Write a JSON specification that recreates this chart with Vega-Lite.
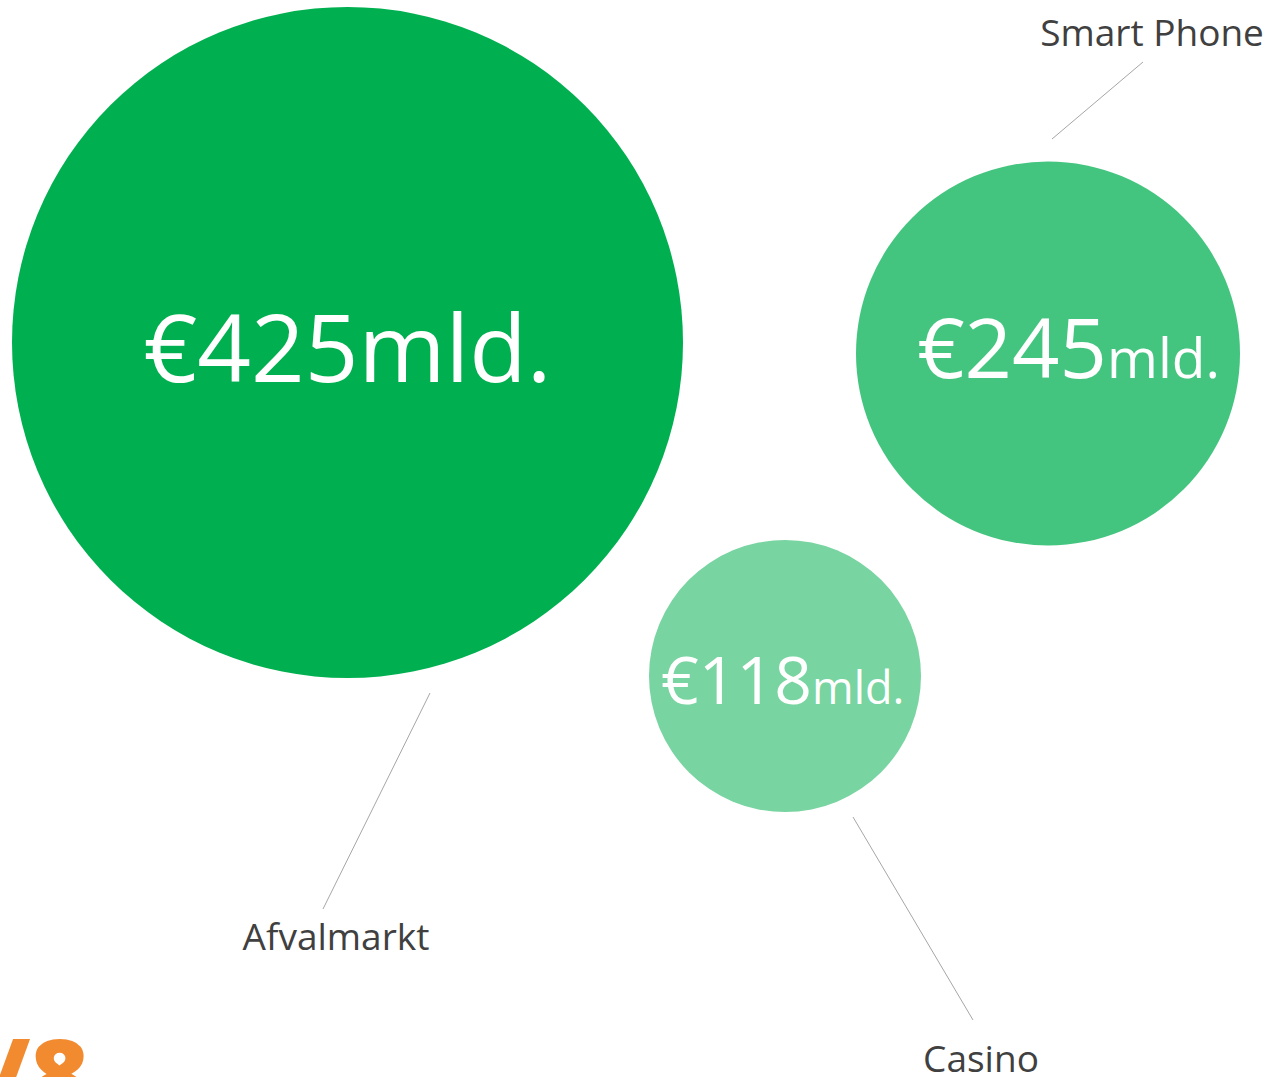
{
  "$schema": "https://vega.github.io/schema/vega-lite/v6.json",
  "width": 1268,
  "height": 1077,
  "padding": 0,
  "autosize": "none",
  "background": "white",
  "config": {"view": {"stroke": null}, "axis": {"disable": true}, "legend": {"disable": true}},
  "datasets": {
    "markets": [
      {"name": "Afvalmarkt", "value": 425, "cx": 347.5, "cy": 342.5, "amount": "€425", "unit": "mld.", "splitX": 358.5, "baseY": 382, "labelX": 336, "labelY": 950, "lx1": 430, "ly1": 693, "lx2": 323, "ly2": 909},
      {"name": "Smart Phone", "value": 245, "cx": 1048, "cy": 353.5, "amount": "€245", "unit": "mld.", "splitX": 1107, "baseY": 378, "labelX": 1152, "labelY": 46, "lx1": 1143, "ly1": 62, "lx2": 1052, "ly2": 139},
      {"name": "Casino", "value": 118, "cx": 785, "cy": 676, "amount": "€118", "unit": "mld.", "splitX": 812, "baseY": 704, "labelX": 981, "labelY": 1072, "lx1": 853, "ly1": 817, "lx2": 973, "ly2": 1020}
    ],
    "logo": [{"text": "/8", "x": -14, "y": 1111}]
  },
  "data": {"name": "markets"},
  "resolve": {"scale": {"size": "independent"}},
  "layer": [
    {
      "mark": {"type": "point", "shape": "circle", "filled": true, "opacity": 1, "strokeWidth": 0},
      "encoding": {
        "x": {"field": "cx", "type": "quantitative", "scale": {"domain": [0, 1268], "nice": false, "zero": false}},
        "y": {"field": "cy", "type": "quantitative", "scale": {"domain": [0, 1077], "nice": false, "zero": false, "reverse": true}},
        "size": {"field": "value", "type": "quantitative", "scale": {"type": "linear", "domain": [118, 245, 425], "range": [73984, 147456, 450241]}},
        "color": {"field": "name", "type": "nominal", "scale": {"domain": ["Afvalmarkt", "Smart Phone", "Casino"], "range": ["#00B050", "#44C57F", "#78D4A0"]}}
      }
    },
    {
      "mark": {"type": "rule", "color": "#A6A6A6", "strokeWidth": 1},
      "encoding": {
        "x": {"field": "lx1", "type": "quantitative"},
        "y": {"field": "ly1", "type": "quantitative"},
        "x2": {"field": "lx2"},
        "y2": {"field": "ly2"}
      }
    },
    {
      "mark": {"type": "text", "align": "right", "baseline": "alphabetic", "color": "white", "font": "Open Sans"},
      "encoding": {
        "x": {"field": "splitX", "type": "quantitative"},
        "y": {"field": "baseY", "type": "quantitative"},
        "text": {"field": "amount"},
        "size": {"field": "value", "type": "quantitative", "scale": {"type": "linear", "domain": [118, 245, 425], "range": [66, 83, 94]}}
      }
    },
    {
      "mark": {"type": "text", "align": "left", "baseline": "alphabetic", "color": "white", "font": "Open Sans"},
      "encoding": {
        "x": {"field": "splitX", "type": "quantitative"},
        "y": {"field": "baseY", "type": "quantitative"},
        "text": {"field": "unit"},
        "size": {"field": "value", "type": "quantitative", "scale": {"type": "linear", "domain": [118, 245, 425], "range": [45, 55, 94]}}
      }
    },
    {
      "mark": {"type": "text", "align": "center", "baseline": "alphabetic", "color": "#404040", "font": "Open Sans", "fontSize": 37},
      "encoding": {
        "x": {"field": "labelX", "type": "quantitative"},
        "y": {"field": "labelY", "type": "quantitative"},
        "text": {"field": "name"}
      }
    },
    {
      "data": {"name": "logo"},
      "mark": {"type": "text", "align": "left", "baseline": "alphabetic", "color": "#F28A30", "font": "Open Sans", "fontWeight": 800, "fontSize": 100},
      "encoding": {
        "x": {"field": "x", "type": "quantitative"},
        "y": {"field": "y", "type": "quantitative"},
        "text": {"field": "text"}
      }
    }
  ]
}
